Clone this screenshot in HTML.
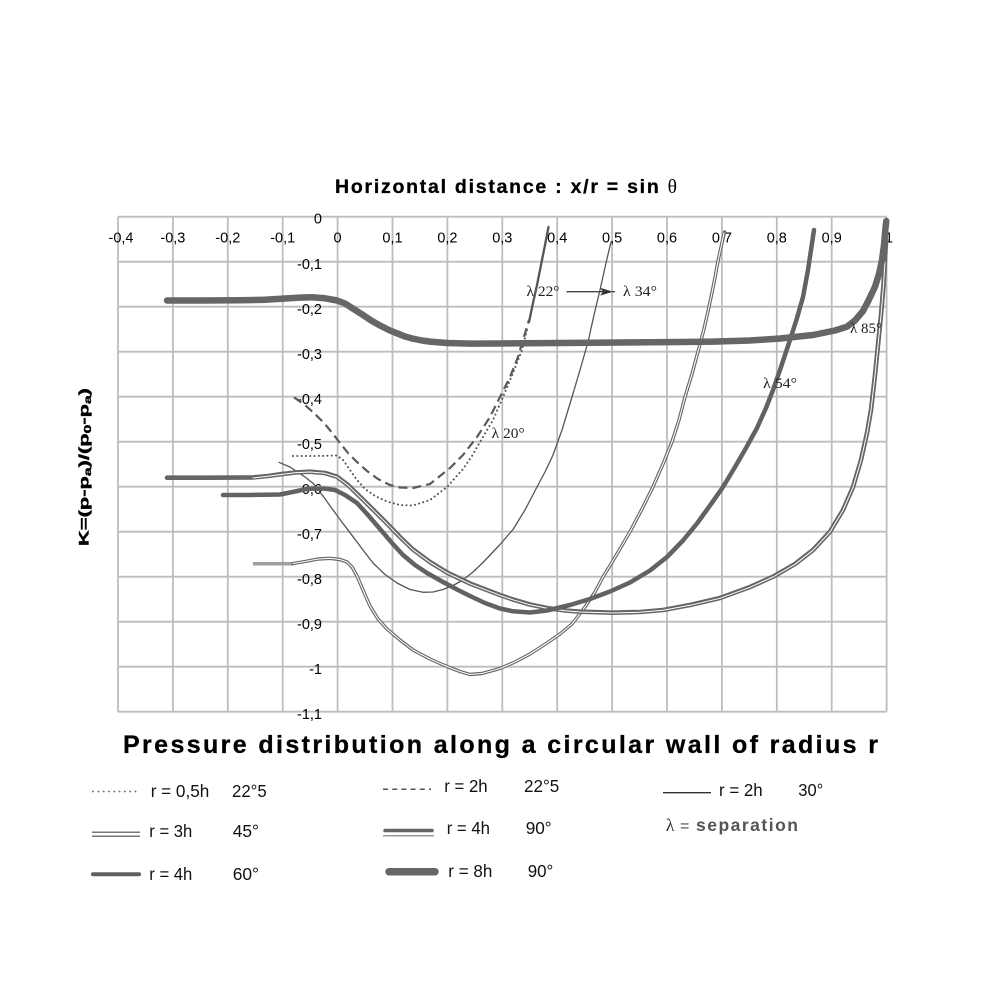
<!DOCTYPE html>
<html><head><meta charset="utf-8"><style>
html,body{margin:0;padding:0;background:#fff;}
svg{display:block;}
</style></head><body>
<svg width="1000" height="1000" viewBox="0 0 1000 1000" xmlns="http://www.w3.org/2000/svg">
<rect width="1000" height="1000" fill="#fff"/>

<!-- Title -->
<text x="335" y="193" font-family="Liberation Sans, sans-serif" font-weight="bold" font-size="19.5" fill="#000" stroke="#000" stroke-width="0.3" textLength="342" lengthAdjust="spacing">Horizontal distance : x/r = sin <tspan font-family="Liberation Serif, serif" font-weight="normal" stroke-width="0">θ</tspan></text>

<!-- Grid -->
<g stroke="#bdbdbd" stroke-width="1.8" fill="none">
<line x1="118" y1="216.7" x2="118" y2="711.7"/>
<line x1="172.9" y1="216.7" x2="172.9" y2="711.7"/>
<line x1="227.8" y1="216.7" x2="227.8" y2="711.7"/>
<line x1="282.7" y1="216.7" x2="282.7" y2="711.7"/>
<line x1="337.6" y1="216.7" x2="337.6" y2="711.7"/>
<line x1="392.5" y1="216.7" x2="392.5" y2="711.7"/>
<line x1="447.4" y1="216.7" x2="447.4" y2="711.7"/>
<line x1="502.3" y1="216.7" x2="502.3" y2="711.7"/>
<line x1="557.2" y1="216.7" x2="557.2" y2="711.7"/>
<line x1="612.1" y1="216.7" x2="612.1" y2="711.7"/>
<line x1="667" y1="216.7" x2="667" y2="711.7"/>
<line x1="721.9" y1="216.7" x2="721.9" y2="711.7"/>
<line x1="776.8" y1="216.7" x2="776.8" y2="711.7"/>
<line x1="831.7" y1="216.7" x2="831.7" y2="711.7"/>
<line x1="886.6" y1="216.7" x2="886.6" y2="711.7"/>
<line x1="118" y1="216.7" x2="886.6" y2="216.7"/>
<line x1="118" y1="261.7" x2="886.6" y2="261.7"/>
<line x1="118" y1="306.7" x2="886.6" y2="306.7"/>
<line x1="118" y1="351.7" x2="886.6" y2="351.7"/>
<line x1="118" y1="396.7" x2="886.6" y2="396.7"/>
<line x1="118" y1="441.7" x2="886.6" y2="441.7"/>
<line x1="118" y1="486.7" x2="886.6" y2="486.7"/>
<line x1="118" y1="531.7" x2="886.6" y2="531.7"/>
<line x1="118" y1="576.7" x2="886.6" y2="576.7"/>
<line x1="118" y1="621.7" x2="886.6" y2="621.7"/>
<line x1="118" y1="666.7" x2="886.6" y2="666.7"/>
<line x1="118" y1="711.7" x2="886.6" y2="711.7"/>
</g>

<!-- X tick labels -->
<g font-family="Liberation Sans, sans-serif" font-size="14.5" fill="#000" text-anchor="middle">
<text x="121" y="242.5">-0,4</text>
<text x="172.9" y="242.5">-0,3</text>
<text x="227.8" y="242.5">-0,2</text>
<text x="282.7" y="242.5">-0,1</text>
<text x="337.6" y="242.5">0</text>
<text x="392.5" y="242.5">0,1</text>
<text x="447.4" y="242.5">0,2</text>
<text x="502.3" y="242.5">0,3</text>
<text x="557.2" y="242.5">0,4</text>
<text x="612.1" y="242.5">0,5</text>
<text x="667" y="242.5">0,6</text>
<text x="721.9" y="242.5">0,7</text>
<text x="776.8" y="242.5">0,8</text>
<text x="831.7" y="242.5">0,9</text>
<text x="889" y="242.5">1</text>
</g>

<!-- Y tick labels -->
<g font-family="Liberation Sans, sans-serif" font-size="14.5" fill="#000" text-anchor="end">
<text x="322" y="223.5">0</text>
<text x="322" y="269.2">-0,1</text>
<text x="322" y="314.2">-0,2</text>
<text x="322" y="359.2">-0,3</text>
<text x="322" y="404.2">-0,4</text>
<text x="322" y="449.2">-0,5</text>
<text x="322" y="494.2">-0,6</text>
<text x="322" y="539.2">-0,7</text>
<text x="322" y="584.2">-0,8</text>
<text x="322" y="629.2">-0,9</text>
<text x="322" y="674.2">-1</text>
<text x="322" y="719.2">-1,1</text>
</g>

<!-- Y axis label -->
<text transform="translate(88.5,467) rotate(-90)" text-anchor="middle" font-family="Liberation Sans, sans-serif" font-weight="bold" font-size="14" fill="#000" stroke="#000" stroke-width="0.4" textLength="158" lengthAdjust="spacingAndGlyphs">K=(p-p<tspan font-size="10" dy="2.5">a</tspan><tspan dy="-2.5">)/(p</tspan><tspan font-size="10" dy="2.5">0</tspan><tspan dy="-2.5">-p</tspan><tspan font-size="10" dy="2.5">a</tspan><tspan dy="-2.5">)</tspan></text>

<!-- Curves -->
<g fill="none" stroke-linejoin="round" stroke-linecap="round">
<!-- E thin r=2h 30 -->
<path stroke="#555" stroke-width="1.3" d="M279,462.3 L290,467 L297,471.7 L305,477 L313,483.3 L323,496 L333,510 L343,523.5 L353,536.7 L363,550 L373,563 L385,574.5 L397,583 L410,589.5 L423,592.3 L433,592 L443,589.5 L453,585.5 L463,580 L473,572 L483,562.5 L492,553 L500,544.5 L513,529.5 L525,510 L537,487 L546,470 L553,455 L562,430 L572,397 L580,370 L588,342 L594,315 L600,290 L606,263 L610,246 L611,242"/>

<!-- F dotted -->
<path stroke="#555" stroke-width="2" stroke-dasharray="0.1 4.2" d="M293,456 L315,456 L337,455.5 L343,460 L350,470 L357,480 L365,489 L375,496 L387,501.5 L400,505 L413,505.5 L430,500 L447,487 L463,469 L472,456 L480,442 L493,420 L503,397 L513,373 L522,350 L527,330"/>

<!-- G dashed -->
<path stroke="#5a5a5a" stroke-width="2.2" stroke-linecap="butt" stroke-dasharray="9 5" d="M294,397.3 L305,405 L315,414 L325,424 L333,434 L340,443 L348,453 L357,462 L367,471 L378,479 L390,485 L400,487.5 L413,488 L430,484 L450,468 L463,455 L477,437 L490,417 L500,397 L510,377 L518,357 L523,340 L529,320"/>
<!-- lambda 22 solid top -->
<path stroke="#555" stroke-width="2.3" d="M529,322 L533,303 L537,285 L541,265 L545,245 L548.5,227"/>

<!-- D double thin r=3h 45 -->
<path stroke="#a0a0a0" stroke-width="3.5" stroke-linecap="butt" d="M253,563.7 L294,563.7"/>
<path stroke="#666" stroke-width="3.4" d="M293,563.5 L305,561.5 L318,559 L330,558.3 L340,559.5 L347,562 L352,567 L357,576 L363,590 L370,606 L378,619 L387,629 L400,640 L413,650 L430,659 L447,666.5 L460,671.5 L470,674.5 L482,673.5 L500,668.5 L515,662 L530,654 L547,643 L560,634 L572,624 L585,607 L595,592 L603,577 L617,554 L630,531.7 L642,509 L653,486.7 L663,464 L672,441.7 L679,420 L685,397 L692,374 L698,351.7 L704,329 L709,306.7 L714,283 L718,261 L721.5,245 L724.5,232"/>
<path stroke="#fff" stroke-width="1.1" d="M293,563.5 L305,561.5 L318,559 L330,558.3 L340,559.5 L347,562 L352,567 L357,576 L363,590 L370,606 L378,619 L387,629 L400,640 L413,650 L430,659 L447,666.5 L460,671.5 L470,674.5 L482,673.5 L500,668.5 L515,662 L530,654 L547,643 L560,634 L572,624 L585,607 L595,592 L603,577 L617,554 L630,531.7 L642,509 L653,486.7 L663,464 L672,441.7 L679,420 L685,397 L692,374 L698,351.7 L704,329 L709,306.7 L714,283 L718,261 L721.5,245 L724,233"/>

<!-- C double r=4h 90 -->
<path stroke="#666" stroke-width="4.6" d="M167,477.7 L210,477.7 L253,477.4 L268,476 L280,474.3 L295,472.5 L310,471.7 L325,473 L337,476.7 L348,485 L360,496.7 L373,509.5 L387,523.5 L400,537 L413,549.5 L430,562 L447,572.5 L470,583.5 L500,595 L513,599.5 L530,604.5 L547,608 L565,610.5 L580,611.7 L613,612.7 L640,612 L663,610 L690,605 L720,598 L750,587 L773,576.7 L795,564 L813,550 L830,531.7 L843,510 L853,487 L861,460 L867,433 L871,410 L875,375 L878,345 L881,315 L883.5,285 L885,260 L886,240"/>
<path stroke="#fff" stroke-width="1" d="M253,478 L268,476.3 L280,474.6 L295,472.8 L310,472 L325,473.3 L337,477 L348,485.3 L360,497 L373,509.8 L387,523.8 L400,537.3 L413,549.8 L430,562.3 L447,572.8 L470,583.8 L500,595.3 L513,599.8 L530,604.8 L547,608.3 L565,610.8 L580,612 L613,613 L640,612.3 L663,610.3 L690,605.3 L720,598.3 L750,587.3 L773,577 L795,564.3 L813,550.3 L830,532 L843,510.3 L853,487.3 L861,460.3 L867,433.3 L871,410.3 L875,375.3 L878,345.3 L881,315.3 L883.5,285.3 L885,262"/>

<!-- B thick r=4h 60 -->
<path stroke="#626262" stroke-width="4.5" d="M223,495 L250,495 L280,494.5 L295,491.5 L305,489.3 L313,488.5 L325,488.6 L335,490 L345,495 L357,503 L368,515 L380,529 L392,543 L403,555 L415,565 L427,573 L443,582 L457,589.5 L470,596 L485,603 L500,608.5 L513,611.3 L530,612.5 L547,610.5 L570,605 L590,599 L610,591.5 L630,582.5 L650,570.5 L667,557 L683,540.5 L697,523.5 L710,505.5 L723,487 L735,467 L746,448 L757,428 L766,408 L773,390 L780,370 L790,340 L797,318 L803,297 L808,270 L811,250 L814,230"/>

<!-- A thick r=8h 90 -->
<path stroke="#666" stroke-width="6.5" d="M167,300.5 L200,300.5 L240,300.3 L265,299.8 L285,298.5 L300,297.6 L312,297.3 L325,298.3 L337,300.5 L345,303.5 L352,308 L363,315 L372,321 L380,325.5 L390,330.5 L397,333.3 L405,336.5 L413,338.7 L422,340.5 L430,341.6 L447,343 L470,343.6 L500,343.5 L560,343 L620,342.5 L680,342 L713,341.6 L750,340.5 L780,338.5 L813,335 L835,330.5 L847,326.7 L855,320.5 L863,311 L869,299.5 L875,286.7 L879,274 L882,260 L884,245 L885.3,230 L886.3,221"/>
</g>

<!-- Annotations -->
<g font-family="Liberation Serif, serif" font-size="15" fill="#222">
<text x="526.5" y="296" textLength="33" lengthAdjust="spacingAndGlyphs">λ 22°</text>
<text x="623" y="296" textLength="34" lengthAdjust="spacingAndGlyphs">λ 34°</text>
<text x="491.7" y="438" textLength="33" lengthAdjust="spacingAndGlyphs">λ 20°</text>
<text x="763" y="388" textLength="34" lengthAdjust="spacingAndGlyphs">λ 54°</text>
<text x="850" y="333" textLength="32" lengthAdjust="spacingAndGlyphs">λ 85°</text>
</g>
<line x1="566.5" y1="291.7" x2="604" y2="291.7" stroke="#444" stroke-width="1.3"/>
<polygon points="600,287.8 613,291.7 600,295.6 603,291.7" fill="#333"/>
<line x1="612" y1="291.7" x2="615" y2="291.7" stroke="#444" stroke-width="1.3"/>

<!-- Bottom title -->
<text x="123" y="753" font-family="Liberation Sans, sans-serif" font-weight="bold" font-size="25" fill="#000" stroke="#000" stroke-width="0.3" textLength="755" lengthAdjust="spacing">Pressure distribution along a circular wall of radius r</text>

<!-- Legend samples -->
<g fill="none">
<line x1="93" y1="791.5" x2="140" y2="791.5" stroke="#666" stroke-width="1.8" stroke-linecap="round" stroke-dasharray="0.1 5.2"/>
<line x1="92" y1="832.3" x2="140" y2="832.3" stroke="#777" stroke-width="1.5"/>
<line x1="92" y1="836.3" x2="140" y2="836.3" stroke="#777" stroke-width="1.5"/>
<line x1="93" y1="874.3" x2="139" y2="874.3" stroke="#606060" stroke-width="4" stroke-linecap="round"/>

<line x1="383" y1="789.3" x2="431" y2="789.3" stroke="#555" stroke-width="1.5" stroke-dasharray="5 4.2"/>
<line x1="385" y1="830.5" x2="432" y2="830.5" stroke="#666" stroke-width="3.6" stroke-linecap="round"/>
<line x1="383" y1="835.8" x2="434" y2="835.8" stroke="#777" stroke-width="1.2"/>
<line x1="389" y1="871.7" x2="435" y2="871.7" stroke="#666" stroke-width="7.5" stroke-linecap="round"/>

<line x1="663" y1="792.7" x2="711" y2="792.7" stroke="#333" stroke-width="1.3"/>
</g>

<!-- Legend text -->
<g font-family="Liberation Sans, sans-serif" font-size="17.5" fill="#111">
<text x="150.7" y="797" textLength="58.6" lengthAdjust="spacingAndGlyphs">r = 0,5h</text>
<text x="232" y="797" textLength="34.7" lengthAdjust="spacingAndGlyphs">22°5</text>
<text x="149.3" y="837" textLength="43" lengthAdjust="spacingAndGlyphs">r = 3h</text>
<text x="232.7" y="837" textLength="26.3" lengthAdjust="spacingAndGlyphs">45°</text>
<text x="149.3" y="880" textLength="43" lengthAdjust="spacingAndGlyphs">r = 4h</text>
<text x="232.7" y="880" textLength="26.3" lengthAdjust="spacingAndGlyphs">60°</text>

<text x="444.3" y="792" textLength="43.3" lengthAdjust="spacingAndGlyphs">r = 2h</text>
<text x="524" y="792" textLength="35.3" lengthAdjust="spacingAndGlyphs">22°5</text>
<text x="446.7" y="834" textLength="43.3" lengthAdjust="spacingAndGlyphs">r = 4h</text>
<text x="525.7" y="834" textLength="26" lengthAdjust="spacingAndGlyphs">90°</text>
<text x="448.3" y="877" textLength="44" lengthAdjust="spacingAndGlyphs">r = 8h</text>
<text x="527.7" y="877" textLength="25.6" lengthAdjust="spacingAndGlyphs">90°</text>

<text x="719" y="796" textLength="43.7" lengthAdjust="spacingAndGlyphs">r = 2h</text>
<text x="798.3" y="796" textLength="25" lengthAdjust="spacingAndGlyphs">30°</text>
</g>
<text x="665.7" y="831" font-family="Liberation Serif, serif" font-size="18" fill="#333">λ</text>
<text x="680" y="831" font-family="Liberation Sans, sans-serif" font-size="16" fill="#444">=</text>
<text x="696" y="831" font-family="Liberation Sans, sans-serif" font-weight="bold" font-size="17.5" fill="#555" textLength="102" lengthAdjust="spacing">separation</text>
</svg>
</body></html>
